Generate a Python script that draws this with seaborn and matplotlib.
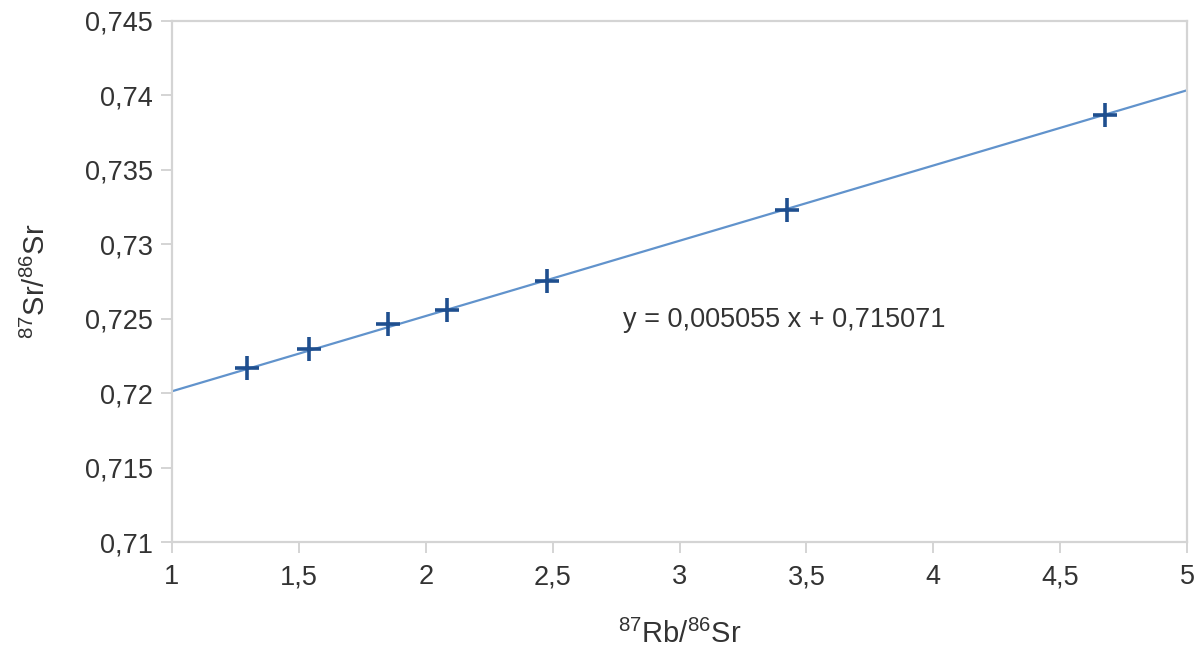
import numpy as np
import pandas as pd
import matplotlib
matplotlib.use("Agg")
import matplotlib.pyplot as plt
import seaborn as sns

# Data
rb_sr = [1.296, 1.540, 1.851, 2.084, 2.478, 3.424, 4.677]
sr_sr = [0.72167, 0.72294, 0.72462, 0.72556, 0.7275, 0.73233, 0.7387]
slope = 0.005055
intercept = 0.715071
line_x = [1.0, 5.0]
x_ticks = [1, 1.5, 2, 2.5, 3, 3.5, 4, 4.5, 5]
y_ticks = [0.71, 0.715, 0.72, 0.725, 0.73, 0.735, 0.74, 0.745]

sns.set_theme(style="white")
plt.rcParams['font.family'] = ['Liberation Sans', 'DejaVu Sans']
plt.rcParams['mathtext.fontset'] = 'custom'
plt.rcParams['mathtext.rm'] = 'Liberation Sans'
plt.rcParams['mathtext.it'] = 'Liberation Sans'

fig = plt.figure(figsize=(12.04, 6.5), dpi=100)
ax = fig.add_axes([172/1204, 1-542/650, (1187-172)/1204, (542-21)/650])

df_pts = pd.DataFrame({"x": rb_sr, "y": sr_sr})
df_line = pd.DataFrame({"x": line_x, "y": [slope*v + intercept for v in line_x]})

sns.lineplot(data=df_line, x="x", y="y", ax=ax, color="#6193cc", linewidth=1.6)
sns.scatterplot(data=df_pts, x="x", y="y", ax=ax, marker="+", s=300,
                color="#1f4f8f", linewidth=2.6, zorder=5)

ax.set_xlim(1, 5)
ax.set_ylim(0.71, 0.745)
ax.set_xticks(x_ticks)
ax.set_yticks(y_ticks)
ax.set_xticklabels([f"{v:g}".replace(".", ",") for v in x_ticks])
ax.set_yticklabels([f"{v:g}".replace(".", ",") for v in y_ticks])

for s in ax.spines.values():
    s.set_color("#d4d4d4")
    s.set_linewidth(1.6)
ax.tick_params(axis="both", which="major", bottom=True, left=True,
               direction="out", length=8, width=1.4,
               color="#d4d4d4", labelsize=19.5, labelcolor="#333333")
ax.tick_params(axis="x", pad=8)
ax.tick_params(axis="y", pad=6)

ax.set_xlabel(r"$^{87}$Rb/$^{86}$Sr", fontsize=21, color="#333333", labelpad=21)
ax.set_ylabel(r"$^{87}$Sr/$^{86}$Sr", fontsize=21, color="#333333", labelpad=24)

ax.text(2.777, 0.72444, "y = 0,005055 x + 0,715071", fontsize=19.5, color="#333333",
        ha="left", va="baseline")

fig.savefig("out.png", dpi=100, facecolor="white")
